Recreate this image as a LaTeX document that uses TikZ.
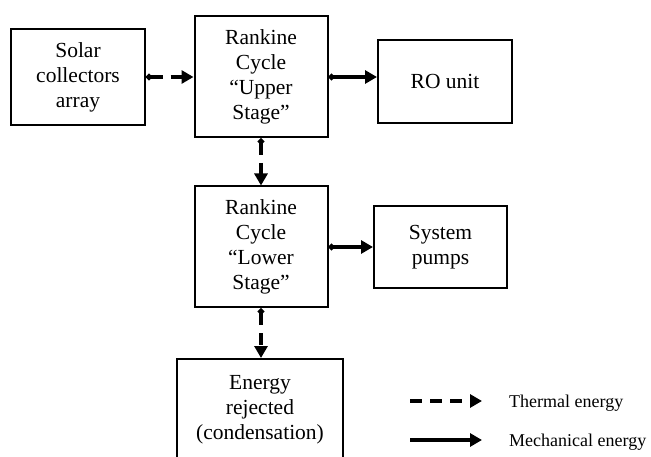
\documentclass[tikz,border=0pt]{standalone}
\usepackage{fontspec}
\setmainfont{Liberation Serif}
\usetikzlibrary{arrows.meta}

\begin{document}
\begin{tikzpicture}[x=1pt,y=-1pt,
    box/.style={draw, line width=2pt, align=center, inner sep=0pt,
      font=\fontsize{21.5}{25}\selectfont},
    thermal/.style={line width=3.4pt, dash pattern=on 12pt off 8pt,
      -{Triangle[length=12pt,width=13pt]}},
    mech/.style={line width=3.4pt, -{Triangle[length=12pt,width=13pt]}},
    dotted start/.style={{Circle[length=6pt]}-{Triangle[length=12pt,width=13pt]}},
    legtxt/.style={anchor=base west, inner sep=0pt, font=\fontsize{18}{20}\selectfont}]
    % page and frame %
    \useasboundingbox (0,0) rectangle (651,457);
    \clip (0,0) rectangle (651,457);

    % blocks %
    \node[box, minimum width=134pt, minimum height=96pt] (solar) at (78,77) {Solar\\collectors\\array};
    \node[box, minimum width=133pt, minimum height=121pt] (upper) at (261,77) {Rankine\\Cycle\\``Upper\\Stage''};
    \node[box, minimum width=134pt, minimum height=83pt] (ro) at (445,81.5) {RO unit};
    \node[box, minimum width=133pt, minimum height=121pt] (lower) at (261,247) {Rankine\\Cycle\\``Lower\\Stage''};
    \node[box, minimum width=133pt, minimum height=82pt] (pumps) at (440.5,247) {System\\pumps};
    \node[box, minimum width=166pt, minimum height=130pt, anchor=north] (energy) at (260,358) {};
    \node[anchor=north, align=center, inner sep=0pt, font=\fontsize{21.5}{25}\selectfont] (energytxt)
      at ([yshift=-17pt]energy.north) {Energy\\rejected\\(condensation)};

    % flows %
    \draw[thermal, dotted start] (solar) -- (upper);
    \draw[mech, dotted start] (upper.east) -- (upper.east -| ro.west);
    \draw[thermal, dotted start] (upper) -- (lower);
    \draw[mech, dotted start] (lower) -- (pumps);
    \draw[thermal, dotted start] (lower.south) -- (lower.south |- energy.north);

    % legend %
    \coordinate (th1) at (410,401);
    \coordinate (th2) at (482,401);
    \coordinate (me1) at (410,440);
    \coordinate (me2) at (482,440);
    \draw[thermal] (th1) -- (th2);
    \draw[mech] (me1) -- (me2);
    \node[legtxt] (thtxt) at (509,407) {Thermal energy};
    \node[legtxt] (metxt) at (509,446) {Mechanical energy};
\end{tikzpicture}
\end{document}
